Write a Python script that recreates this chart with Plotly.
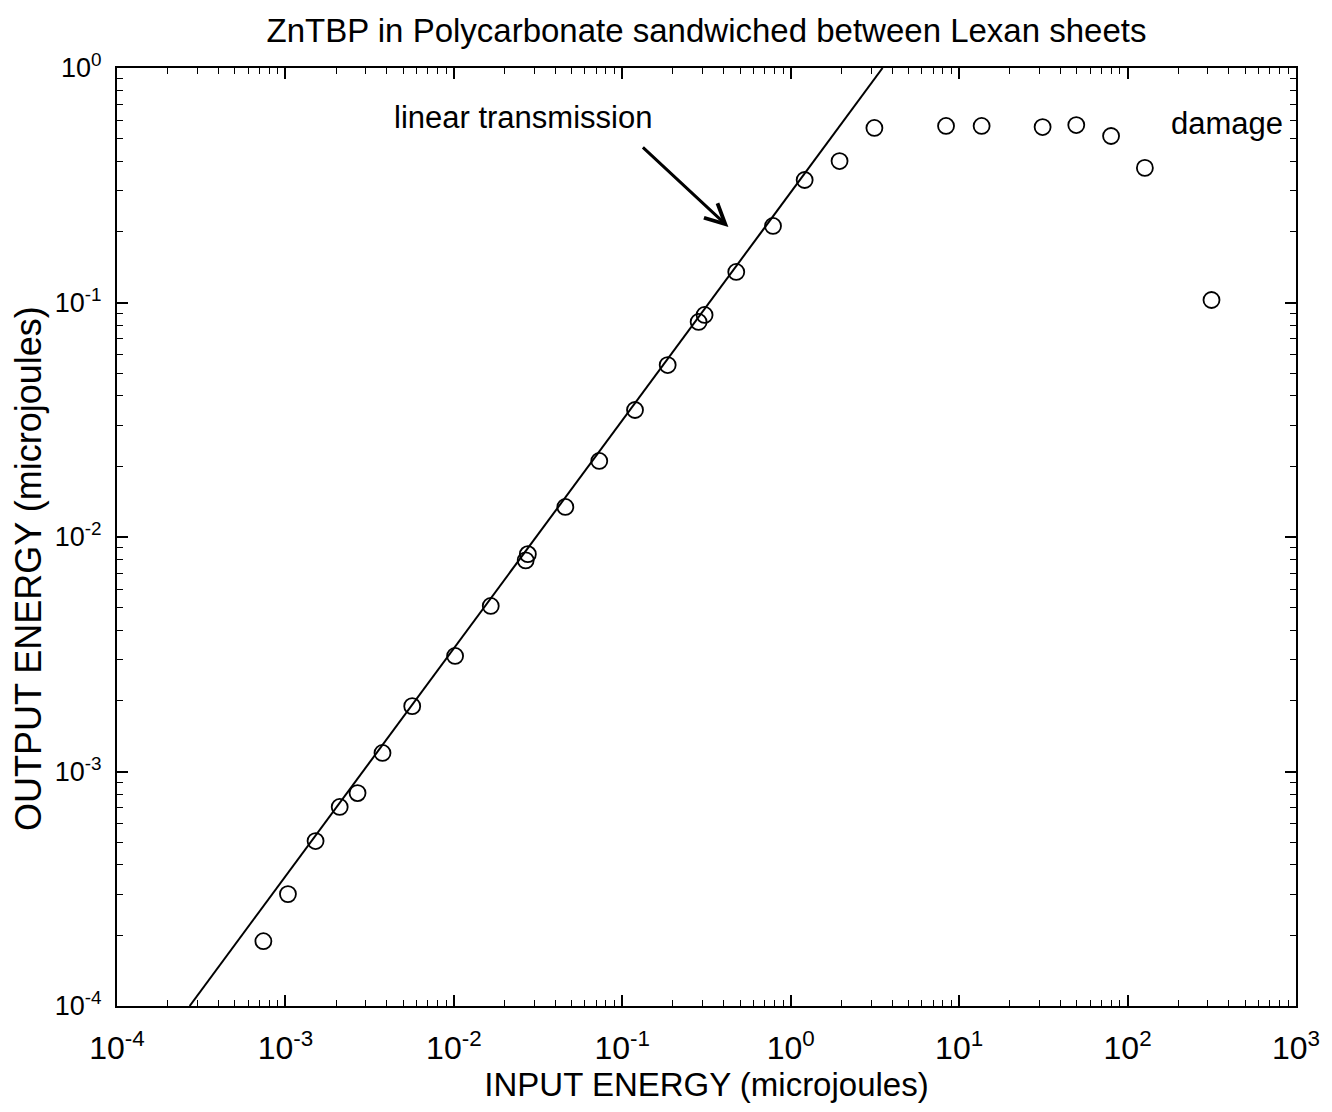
import plotly.graph_objects as go

# Measured energies (microjoules)
input_energy = [7.4e-4, 1.035e-3, 1.51e-3, 2.10e-3, 2.68e-3, 3.77e-3, 5.66e-3,
                1.017e-2, 1.656e-2, 2.67e-2, 2.75e-2, 4.59e-2, 7.30e-2, 0.119,
                0.186, 0.284, 0.308, 0.475, 0.785, 1.21, 1.95, 3.14, 8.36,
                13.6, 31.3, 49.6, 79.8, 126.7, 315.0]
output_energy = [1.89e-4, 3.0e-4, 5.05e-4, 7.06e-4, 8.09e-4, 1.20e-3, 1.90e-3,
                 3.11e-3, 5.08e-3, 7.95e-3, 8.45e-3, 1.343e-2, 2.11e-2, 3.48e-2,
                 5.41e-2, 8.26e-2, 8.85e-2, 0.135, 0.212, 0.333, 0.401, 0.555,
                 0.566, 0.566, 0.560, 0.571, 0.513, 0.375, 0.1025]

# Linear transmission reference line
linear_x = [2.70e-4, 3.51]
linear_y = [1e-4, 1.0]

x_decades = [-4, -3, -2, -1, 0, 1, 2, 3]
y_decades = [-4, -3, -2, -1, 0]
x_ticktext = ["10<sup>-4</sup>", "10<sup>-3</sup>", "10<sup>-2</sup>", "10<sup>-1</sup>",
              "10<sup>0</sup>", "10<sup>1</sup>", "10<sup>2</sup>", "10<sup>3</sup>"]
y_ticktext = ["10<sup>-4</sup>", "10<sup>-3</sup>", "10<sup>-2</sup>", "10<sup>-1</sup>",
              "10<sup>0</sup>"]


def decade_ticks(decades):
    return [10.0 ** d for d in decades]


def minor_ticks(decades):
    return [m * 10.0 ** d for d in decades[:-1] for m in range(2, 10)]


FONT = "Arial, Liberation Sans, sans-serif"

fig = go.Figure()
fig.add_trace(go.Scatter(
    x=linear_x, y=linear_y, mode="lines",
    line=dict(color="black", width=2), showlegend=False, hoverinfo="skip"))
fig.add_trace(go.Scatter(
    x=input_energy, y=output_energy, mode="markers",
    marker=dict(symbol="circle-open", size=16, color="black",
                line=dict(color="black", width=1.8)),
    showlegend=False))

axis_common = dict(
    type="log", showgrid=False, zeroline=False,
    showline=True, linecolor="black", linewidth=2, mirror="ticks",
    ticks="inside", ticklen=11, tickwidth=1.5, tickcolor="black",
)

fig.update_xaxes(
    range=[-4, 3], tickmode="array", tickvals=decade_ticks(x_decades),
    ticktext=x_ticktext, ticklabelstandoff=13,
    tickfont=dict(family=FONT, size=32, color="black"),
    minor=dict(ticks="inside", ticklen=6, tickwidth=1.2, tickcolor="black",
               showgrid=False, tickmode="array", tickvals=minor_ticks(x_decades)),
    title_text="INPUT ENERGY (microjoules)", title_standoff=0,
    title_font=dict(family=FONT, size=33, color="black"),
    **axis_common)
fig.update_yaxes(
    range=[-4, 0], tickmode="array", tickvals=decade_ticks(y_decades),
    ticktext=y_ticktext, ticklabelstandoff=8,
    tickfont=dict(family=FONT, size=27, color="black"),
    minor=dict(ticks="inside", ticklen=6, tickwidth=1.2, tickcolor="black",
               showgrid=False, tickmode="array", tickvals=minor_ticks(y_decades)),
    **axis_common)

# Y-axis title placed as a rotated annotation left of the tick labels
fig.add_annotation(
    x=-0.0745, y=0.466, xref="paper", yref="paper", text="OUTPUT ENERGY (microjoules)",
    textangle=-90, showarrow=False, xanchor="center", yanchor="middle",
    font=dict(family=FONT, size=36, color="black"))

fig.add_annotation(
    x=-0.370, y=-0.678, xref="x", yref="y", text="",
    showarrow=True, arrowhead=5, arrowsize=1.3, arrowwidth=3, arrowcolor="black",
    ax=-87, ay=-81, axref="pixel", ayref="pixel")
fig.add_annotation(
    x=-1.592, y=-0.21, xref="x", yref="y", text="linear transmission",
    showarrow=False, font=dict(family=FONT, size=31, color="black"))
fig.add_annotation(
    x=2.592, y=-0.235, xref="x", yref="y", text="damage",
    showarrow=False, font=dict(family=FONT, size=31, color="black"))

fig.update_layout(
    width=1332, height=1112,
    margin=dict(l=117, r=29, t=68, b=106),
    paper_bgcolor="white", plot_bgcolor="white",
    title=dict(text="ZnTBP in Polycarbonate sandwiched between Lexan sheets",
               x=0.5, xref="paper", xanchor="center", y=0.973, yanchor="middle",
               font=dict(family=FONT, size=33, color="black")),
)

fig.write_html("out.html")
